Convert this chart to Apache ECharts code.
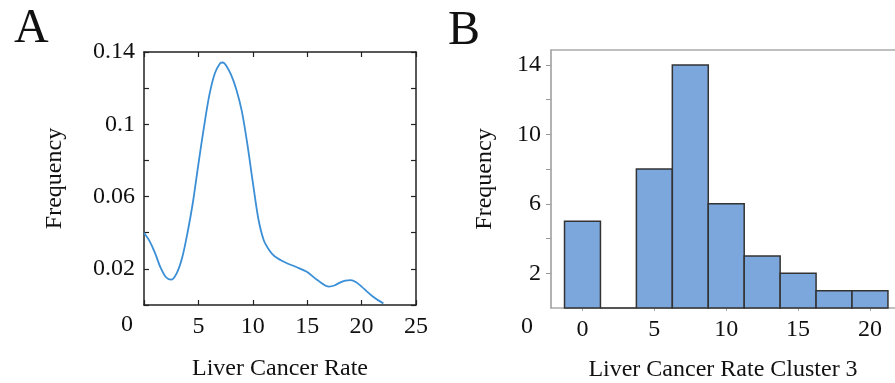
<!DOCTYPE html>
<html>
<head>
<meta charset="utf-8">
<script src="https://cdn.jsdelivr.net/npm/echarts@6/dist/echarts.min.js"></script>
<style>
html,body{margin:0;padding:0;background:#fff;}
#c{width:895px;height:383px;}
</style>
</head>
<body>
<div id="c"></div>
<script>
// Panel A: density curve
const densityX = [0, 0.5, 1, 1.5, 2, 2.5, 3, 3.5, 4, 4.5, 5, 5.5, 6, 6.5, 7, 7.25, 7.5, 8, 8.5, 9, 9.5, 10, 10.5, 11, 11.5, 12, 13, 14, 15, 16, 17, 17.5, 18, 18.5, 19, 19.5, 20, 20.5, 21, 21.5, 22];
const densityY = [0.040, 0.0355, 0.029, 0.021, 0.0155, 0.0140, 0.0175, 0.026, 0.040, 0.057, 0.078, 0.098, 0.116, 0.128, 0.1338, 0.1342, 0.133, 0.1275, 0.119, 0.107, 0.089, 0.068, 0.048, 0.036, 0.0305, 0.027, 0.0235, 0.021, 0.0182, 0.0135, 0.0102, 0.0108, 0.0124, 0.0135, 0.0138, 0.0126, 0.0102, 0.0074, 0.0048, 0.0027, 0.0009];
const aXTicks = [0, 5, 10, 15, 20, 25];
const aYLabels = [0.02, 0.06, 0.1, 0.14];
// Panel B: histogram
const binCenters = [0, 2.5, 5, 7.5, 10, 12.5, 15, 17.5, 20];
const binCounts = [5, 0, 8, 14, 6, 3, 2, 1, 1];
const binWidth = 2.5;
const bXLabels = [0, 5, 10, 15, 20];
const bYLabels = [2, 6, 10, 14];
const bYTicks = [2, 4, 6, 8, 10, 12, 14];

const FONT = '"Liberation Serif", "Times New Roman", serif';
const txt = {fontFamily: FONT, fontSize: 24, color: '#111'};
const frameA = {onZero: false, lineStyle: {color: '#222', width: 1.5}};
const tickA = {inside: true, length: 5, lineStyle: {color: '#222', width: 1.2}};

const chart = echarts.init(document.getElementById('c'), null, {renderer: 'canvas'});
chart.setOption({
  animation: false,
  backgroundColor: '#fff',
  grid: [
    {left: 144, right: 479, top: 52, bottom: 78, containLabel: false, outerBoundsMode: 'none'},
    {left: 551, right: 0, top: 50, bottom: 75, containLabel: false, outerBoundsMode: 'none'}
  ],
  xAxis: [
    {gridIndex: 0, type: 'value', min: 0, max: 25, interval: 5, position: 'bottom',
     axisLine: frameA, splitLine: {show: false}, axisTick: tickA,
     axisLabel: Object.assign({margin: 10, formatter: v => v === 0 ? '' : String(v)}, txt),
     name: 'Liver Cancer Rate', nameLocation: 'middle', nameGap: 52, nameTextStyle: txt},
    {gridIndex: 0, type: 'value', min: 0, max: 25, interval: 5, position: 'top',
     axisLine: frameA, splitLine: {show: false}, axisTick: tickA,
     axisLabel: {show: false}},
    {gridIndex: 1, type: 'value', min: -2.19, max: 21.74, position: 'bottom',
     axisLine: {onZero: false, lineStyle: {color: '#aaa', width: 1.5}}, splitLine: {show: false},
     axisTick: {show: true, length: 3, customValues: bXLabels, lineStyle: {color: '#aaa'}},
     axisLabel: Object.assign({margin: 10, customValues: bXLabels}, txt),
     name: 'Liver Cancer Rate Cluster 3', nameLocation: 'middle', nameGap: 50, nameTextStyle: txt},
    {gridIndex: 1, type: 'value', min: -2.19, max: 21.74, position: 'top',
     axisLine: {onZero: false, lineStyle: {color: '#aaa', width: 1.5}}, splitLine: {show: false},
     axisTick: {show: false}, axisLabel: {show: false}}
  ],
  yAxis: [
    {gridIndex: 0, type: 'value', min: 0, max: 0.14, interval: 0.02, position: 'left',
     axisLine: frameA, splitLine: {show: false}, axisTick: tickA,
     axisLabel: Object.assign({margin: 9, formatter: v => {
        const r = +v.toFixed(2);
        return aYLabels.indexOf(r) >= 0 ? String(r) : '';
     }}, txt),
     name: 'Frequency', nameLocation: 'middle', nameGap: 77, nameRotate: 90, nameTextStyle: txt},
    {gridIndex: 0, type: 'value', min: 0, max: 0.14, interval: 0.02, position: 'right',
     axisLine: frameA, splitLine: {show: false}, axisTick: tickA,
     axisLabel: {show: false}},
    {gridIndex: 1, type: 'value', min: 0, max: 14.86, position: 'left',
     axisLine: {onZero: false, lineStyle: {color: '#999', width: 1.5}}, splitLine: {show: false},
     axisTick: {show: true, inside: false, length: 5, customValues: bYTicks, lineStyle: {color: '#999'}},
     axisLabel: Object.assign({margin: 10, customValues: bYLabels}, txt),
     name: 'Frequency', nameLocation: 'middle', nameGap: 54, nameRotate: 90, nameTextStyle: txt}
  ],
  graphic: [
    {type: 'text', left: 14, top: 5, style: {text: 'A', font: '48px ' + FONT, fill: '#111'}},
    {type: 'text', left: 448, top: 7, style: {text: 'B', font: '48px ' + FONT, fill: '#111'}},
    {type: 'text', x: 127, y: 325, style: {text: '0', font: '24px ' + FONT, fill: '#111', textAlign: 'center', textVerticalAlign: 'middle'}},
    {type: 'text', x: 527, y: 327, style: {text: '0', font: '24px ' + FONT, fill: '#111', textAlign: 'center', textVerticalAlign: 'middle'}}
  ],
  series: [
    {type: 'line', xAxisIndex: 0, yAxisIndex: 0, showSymbol: false, smooth: 0.3,
     lineStyle: {color: '#3b8fd6', width: 1.8},
     data: densityX.map((x, i) => [x, densityY[i]])},
    {type: 'custom', xAxisIndex: 2, yAxisIndex: 2,
     data: binCenters.map((c, i) => [c, binCounts[i]]),
     renderItem: function (params, api) {
       const c = api.value(0), v = api.value(1);
       const p0 = api.coord([c - binWidth / 2, v]);
       const p1 = api.coord([c + binWidth / 2, 0]);
       return {type: 'rect',
         shape: {x: p0[0], y: p0[1], width: p1[0] - p0[0], height: p1[1] - p0[1]},
         style: {fill: '#7ba7dc', stroke: '#333', lineWidth: 1.5}};
     }}
  ]
});
</script>
</body>
</html>
